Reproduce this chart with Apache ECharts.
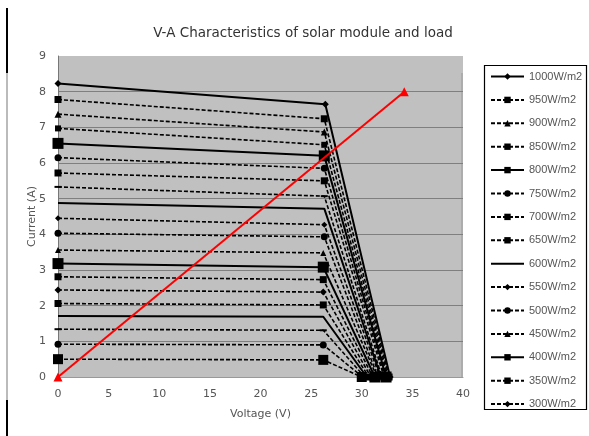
<!DOCTYPE html>
<html>
<head>
    <meta charset="UTF-8">
    <title>V-A Characteristics</title>
    <script type="text/javascript" src="https://cdn.jsdelivr.net/npm/echarts@6/dist/echarts.min.js"></script>
    <style type="text/css">
        html, body { margin: 0; padding: 0; background: #fff; }
        #chart { width: 589px; height: 436px; }
    </style>
</head>
<body>
    <div id="chart"></div>
    <script>
    // irradiance levels (W/m2) and the three points of each I-V curve
    var irr = [1000, 950, 900, 850, 800, 750, 700, 650, 600, 550, 500, 450, 400, 350, 300, 250, 200, 150, 100, 50];
    var isc = [8.23, 7.78, 7.37, 6.97, 6.55, 6.15, 5.72, 5.33, 4.88, 4.45, 4.03, 3.56, 3.18, 2.81, 2.44, 2.06, 1.71, 1.34, 0.92, 0.50];
    var vmp = [26.4, 26.3, 26.3, 26.3, 26.3, 26.3, 26.3, 26.3, 26.3, 26.3, 26.3, 26.2, 26.2, 26.2, 26.2, 26.2, 26.2, 26.2, 26.2, 26.2];
    var imp = [7.65, 7.24, 6.87, 6.51, 6.20, 5.85, 5.50, 5.07, 4.72, 4.27, 3.93, 3.48, 3.08, 2.73, 2.38, 2.02, 1.69, 1.31, 0.90, 0.48];
    var voc = [32.8, 32.7, 32.6, 32.5, 32.4, 32.3, 32.2, 32.0, 31.9, 31.8, 31.6, 31.5, 31.3, 31.1, 30.9, 30.7, 30.5, 30.3, 30.1, 30.0];
    // load line
    var loadV = [0, 34.2];
    var loadI = [0, 8.0];
    var xTicks = [0, 5, 10, 15, 20, 25, 30, 35, 40];
    var yTicks = [0, 1, 2, 3, 4, 5, 6, 7, 8, 9];

    // marker / line look per series (solid or dashed, symbol)
    var styles = [
        ['solid', 'diamond', 7], ['dash', 'rect', 7], ['dash', 'triangle', 7], ['dash', 'rect', 6],
        ['solid', 'rect', 11], ['dash', 'circle', 7], ['dash', 'rect', 7], ['dash', 'rect', [7, 2]],
        ['solid', 'none', 0], ['dash', 'diamond', 6], ['dash', 'circle', 7], ['dash', 'triangle', 6],
        ['solid', 'rect', 11], ['dash', 'rect', 7], ['dash', 'diamond', 7], ['dash', 'rect', 7],
        ['solid', 'none', 0], ['dash', 'rect', [7, 2]], ['dash', 'circle', 7], ['dash', 'rect', 10]
    ];

    var series = [];
    var legendData = [];
    for (var i = 0; i < irr.length; i++) {
        var nm = irr[i] + 'W/m2';
        var st = styles[i];
        if (i < 15) {
            var item = { name: nm };
            if (st[1] == 'none') item.itemStyle = { color: 'rgba(0,0,0,0)' };
            legendData.push(item);
        }
        series.push({
            name: nm,
            type: 'line',
            data: [[0, isc[i]], [vmp[i], imp[i]], [voc[i], 0]],
            symbol: st[1],
            symbolSize: st[2],
            showSymbol: st[1] != 'none',
            itemStyle: { color: '#000' },
            lineStyle: {
                color: '#000',
                width: st[0] == 'solid' ? 2 : 1.6,
                type: st[0] == 'solid' ? 'solid' : [4, 2]
            },
            animation: false
        });
    }
    series.push({
        name: 'load',
        type: 'line',
        data: [[loadV[0], loadI[0]], [loadV[1], loadI[1]]],
        symbol: 'triangle',
        symbolSize: 9,
        itemStyle: { color: '#ff0000' },
        lineStyle: { color: '#ff0000', width: 2 },
        z: 5,
        animation: false
    });

    var myChart = echarts.init(document.getElementById('chart'));
    var option = {
        animation: false,
        title: {
            text: 'V-A Characteristics of solar module and load',
            left: 298,
            textAlign: 'center',
            top: 21,
            textStyle: { fontFamily: 'DejaVu Sans', fontSize: 13.5, fontWeight: 'normal', color: '#333' }
        },
        grid: {
            left: 58, top: 56, right: 126, bottom: 59,
            show: true, backgroundColor: '#c0c0c0', borderWidth: 0
        },
        xAxis: {
            type: 'value',
            min: xTicks[0], max: xTicks[xTicks.length - 1], interval: 5,
            name: 'Voltage (V)',
            nameLocation: 'middle',
            nameGap: 32,
            nameMoveOverlap: false,
            nameTextStyle: { fontFamily: 'DejaVu Sans', fontSize: 11, color: '#555' },
            axisLine: { lineStyle: { color: '#999' } },
            axisTick: { show: false },
            axisLabel: { fontFamily: 'DejaVu Sans', fontSize: 11, color: '#555', margin: 12 },
            splitLine: { show: false }
        },
        yAxis: {
            type: 'value',
            min: yTicks[0], max: yTicks[yTicks.length - 1], interval: 1,
            name: 'Current (A)',
            nameLocation: 'middle',
            nameGap: 20,
            nameMoveOverlap: false,
            nameTextStyle: { fontFamily: 'DejaVu Sans', fontSize: 11, color: '#555' },
            axisLine: { show: true, lineStyle: { color: '#777' } },
            axisTick: { show: false },
            axisLabel: { fontFamily: 'DejaVu Sans', fontSize: 11, color: '#555', margin: 12 },
            splitLine: { show: true, showMaxLine: false, showMinLine: false, lineStyle: { color: '#7f7f7f', width: 1 } }
        },
        legend: {
            data: legendData,
            orient: 'vertical',
            left: 485,
            top: 66,
            itemWidth: 33,
            itemHeight: 8,
            itemGap: 12.4,
            textStyle: { fontFamily: 'Liberation Sans', fontSize: 11, color: '#555' }
        },
        graphic: [
            { type: 'rect', shape: { x: 484.5, y: 65.5, width: 102, height: 344 }, style: { fill: 'none', stroke: '#000', lineWidth: 1.2 }, z: 100 },
            { type: 'rect', shape: { x: 480, y: 410.5, width: 109, height: 26 }, style: { fill: '#fff' }, z: 99 },
            { type: 'line', shape: { x1: 7, y1: 8, x2: 7, y2: 73 }, style: { stroke: '#000', lineWidth: 2 } },
            { type: 'line', shape: { x1: 7, y1: 73, x2: 7, y2: 400 }, style: { stroke: '#bbb', lineWidth: 2 } },
            { type: 'line', shape: { x1: 7, y1: 400, x2: 7, y2: 436 }, style: { stroke: '#000', lineWidth: 2 } },
            { type: 'line', shape: { x1: 462, y1: 73, x2: 462, y2: 377 }, style: { stroke: '#999', lineWidth: 1 } }
        ],
        series: series
    };
    myChart.setOption(option);
    </script>
</body>
</html>
